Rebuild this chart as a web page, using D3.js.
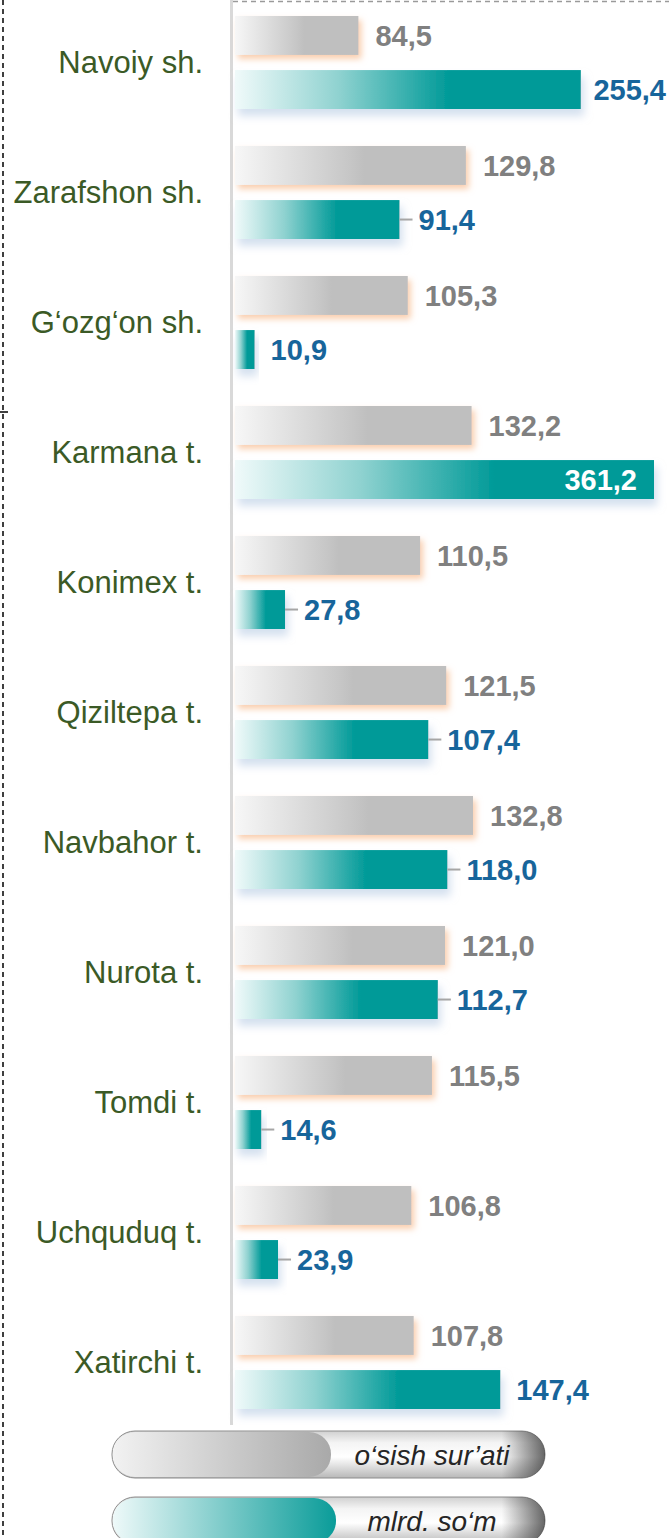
<!DOCTYPE html>
<html>
<head>
<meta charset="utf-8">
<script src="https://cdn.jsdelivr.net/npm/d3@7"></script>
<style>
body{margin:0;background:#fff;}
svg{display:block;font-family:Arial,"Liberation Sans",sans-serif;}
</style>
</head>
<body>
<svg id="chart" width="669" height="1538"></svg>
<script>

/// Data
var categories = ["Navoiy sh.","Zarafshon sh.","G‘ozg‘on sh.","Karmana t.","Konimex t.","Qiziltepa t.","Navbahor t.","Nurota t.","Tomdi t.","Uchquduq t.","Xatirchi t."];
var growth = [84.5,129.8,105.3,132.2,110.5,121.5,132.8,121.0,115.5,106.8,107.8];   // o‘sish sur’ati
var volume = [255.4,91.4,10.9,361.2,27.8,107.4,118.0,112.7,14.6,23.9,147.4];     // mlrd. so‘m
var legendLabels = ["o‘sish sur’ati","mlrd. so‘m"];

var fmt = function(v){ return d3.format(".1f")(v).replace(".", ","); };

var W = 669;
var svg = d3.select("#chart");
var defs = svg.append("defs");

/// gradients
function hGrad(id, stops){
  var g = defs.append("linearGradient").attr("id", id)
    .attr("x1","0").attr("x2","1").attr("y1","0").attr("y2","0");
  stops.forEach(function(s){ g.append("stop").attr("offset", s[0]).attr("stop-color", s[1]); });
}
hGrad("gGray", [[0,"#f7f7f7"],[0.5,"#c6c6c6"],[0.56,"#bfbfbf"],[1,"#bfbfbf"]]);
hGrad("gTeal", [[0,"#f0fafa"],[0.3,"#8fd2d0"],[0.62,"#009a98"],[1,"#009a98"]]);
hGrad("lgGray", [[0,"#f2f2f2"],[1,"#a9a9a9"]]);
hGrad("lgTeal", [[0,"#eef9f9"],[1,"#0a9c99"]]);
var vg = defs.append("linearGradient").attr("id","tube").attr("x1","0").attr("x2","0").attr("y1","0").attr("y2","1");
[[0,"#d0d0d0"],[0.25,"#f4f4f4"],[0.55,"#ffffff"],[1,"#b8b8b8"]].forEach(function(s){ vg.append("stop").attr("offset",s[0]).attr("stop-color",s[1]); });
var eg = defs.append("linearGradient").attr("id","tubeEnd").attr("x1","0").attr("x2","1").attr("y1","0").attr("y2","0");
[[0,"#333",0],[0.9,"#333",0],[1,"#333",0.75]].forEach(function(s){ eg.append("stop").attr("offset",s[0]).attr("stop-color",s[1]).attr("stop-opacity", s[2]); });

/// shadows
function shadow(id, color, dx, dy, sd, op){
  defs.append("filter").attr("id", id).attr("x","-10%").attr("y","-20%").attr("width","130%").attr("height","160%")
    .append("feDropShadow").attr("dx",dx).attr("dy",dy).attr("stdDeviation",sd)
    .attr("flood-color",color).attr("flood-opacity",op);
}
shadow("shGray", "#f7b98c", 3, 4, 3, 0.7);
shadow("shTeal", "#b8cce4", 3, 7, 4, 0.6);

/// scales
var y = d3.scaleBand().domain(categories).range([16, 16 + 130*categories.length]);
var ySub = d3.scaleBand().domain(["g","t"]).range([0, 93]).paddingInner(0.28);
var xGray = d3.scaleLinear().domain([32.5, 132.8]).range([235, 473]);
/// broken scale: compressed above 150, capped at the right edge
var xTeal = d3.scaleLinear().domain([0, 150, 357]).range([235, 505, 654]).clamp(true);

/// frame
svg.append("line").attr("x1",3).attr("x2",3).attr("y1",0).attr("y2",1538)
  .attr("stroke","#000").attr("stroke-width",1.5).attr("stroke-dasharray","5,4");
svg.append("line").attr("x1",0).attr("x2",8).attr("y1",412).attr("y2",412)
  .attr("stroke","#000").attr("stroke-width",1.5);
svg.append("line").attr("x1",233).attr("x2",W).attr("y1",1.5).attr("y2",1.5)
  .attr("stroke","#9a9a9a").attr("stroke-width",1.5).attr("stroke-dasharray","5,4");

/// axis line
svg.append("line").attr("x1",231.5).attr("x2",231.5).attr("y1",0).attr("y2",1425)
  .attr("stroke","#d9d9d9").attr("stroke-width",3);

var groups = svg.selectAll("g.cat").data(categories).enter().append("g")
  .attr("class","cat")
  .attr("transform", function(d){ return "translate(0," + y(d) + ")"; });

/// category labels
groups.append("text")
  .attr("x", 203).attr("y", 46).attr("dy","0.36em")
  .attr("text-anchor","end")
  .attr("font-size", 31).attr("fill","#3b5a26")
  .text(function(d){ return d; });

/// growth bars
groups.append("rect")
  .attr("x", xGray.range()[0])
  .attr("y", ySub("g"))
  .attr("height", ySub.bandwidth())
  .attr("width", function(d,i){ return xGray(growth[i]) - xGray.range()[0]; })
  .attr("fill","url(#gGray)")
  .attr("filter","url(#shGray)");

groups.append("text")
  .attr("x", function(d,i){ return xGray(growth[i]) + 17; })
  .attr("y", ySub("g") + ySub.bandwidth()/2).attr("dy","0.36em")
  .attr("font-size", 29).attr("font-weight","bold").attr("fill","#808080")
  .text(function(d,i){ return fmt(growth[i]); });

/// volume bars
groups.append("rect")
  .attr("x", xTeal.range()[0])
  .attr("y", ySub("t"))
  .attr("height", ySub.bandwidth())
  .attr("width", function(d,i){ return xTeal(volume[i]) - xTeal.range()[0]; })
  .attr("fill","url(#gTeal)")
  .attr("filter","url(#shTeal)");

var inside = function(v){ return v > xTeal.domain()[2]; };
var leader = function(v){ return v > 12 && v < 140; };
var midT = ySub("t") + ySub.bandwidth()/2;

groups.each(function(d,i){
  var g = d3.select(this), v = volume[i], xe = xTeal(v);
  if (leader(v)) {
    g.append("line").attr("x1", xe).attr("x2", xe + 13)
      .attr("y1", midT).attr("y2", midT)
      .attr("stroke","#a6a6a6").attr("stroke-width",2);
  }
  var t = g.append("text")
    .attr("y", midT).attr("dy","0.36em")
    .attr("font-size", 29).attr("font-weight","bold")
    .attr("fill", inside(v) ? "#ffffff" : "#17659b")
    .text(fmt(v));
  if (inside(v)) {
    t.attr("x", xe - 17).attr("text-anchor","end");
  } else {
    var x0 = xe + (leader(v) ? 19 : 16);
    var w = t.node().getComputedTextLength();
    if (x0 + w > W - 3) x0 = W - 3 - w;
    t.attr("x", x0);
  }
});

/// legend
var legY = [1431, 1497];
var legFill = ["url(#lgGray)","url(#lgTeal)"];
var lg = svg.selectAll("g.leg").data(legendLabels).enter().append("g")
  .attr("class","leg")
  .attr("transform", function(d,i){ return "translate(112," + legY[i] + ")"; });

lg.append("rect").attr("x",0).attr("y",0).attr("width",433).attr("height",47)
  .attr("rx",23).attr("fill","url(#tube)").attr("stroke","#8c8c8c").attr("stroke-width",1);
lg.append("rect").attr("x",0).attr("y",0).attr("width",433).attr("height",47)
  .attr("rx",23).attr("fill","url(#tubeEnd)");
lg.append("rect").attr("x",1).attr("y",1).attr("width",function(d,i){ return i ? 223 : 218; }).attr("height",45)
  .attr("rx",22).attr("fill",function(d,i){ return legFill[i]; });
lg.append("text").attr("x",320).attr("y",24).attr("dy","0.36em")
  .attr("text-anchor","middle").attr("font-size",28).attr("font-style","italic")
  .attr("fill","#262626")
  .text(function(d){ return d; });

</script>
</body>
</html>
